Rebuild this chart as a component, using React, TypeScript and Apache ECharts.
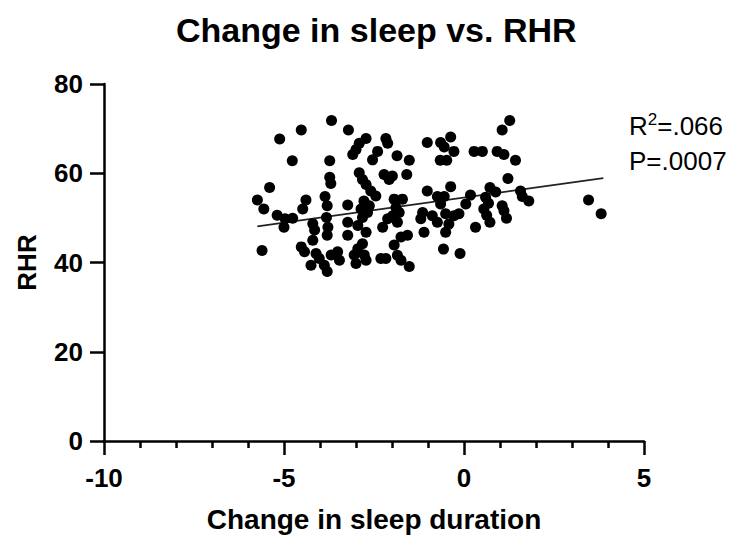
import React, { useEffect, useRef } from "react";
import * as echarts from "echarts";

const FONT = "'Liberation Sans', Arial, Helvetica, sans-serif";

const chartTitle = "Change in sleep vs. RHR";
const xAxisName = "Change in sleep duration";
const yAxisName = "RHR";
const statLines = ["{n|R}{s|2}{n|=.066}", "{n|P=.0007}"];

// change in sleep duration (x) and resting heart rate (y)
const sleepChange = [
  -3.68, -4.52, -5.12, -4.77, -3.73, -3.73, -3.7, -5.4, -5.74, -5.56, -4.39, -4.48, -3.86, -3.8, -5.19, -4.97,
  -4.76, -5.0, -4.2, -4.15, -3.82, -3.78, -3.8, -5.61, -4.2, -4.52, -4.43, -4.11, -4.02, -4.25, -3.88, -3.8, -3.69,
  -3.21, -2.72, -2.91, -3.0, -3.09, -2.17, -2.12, -2.4, -2.54, -1.86, -1.52, -2.91, -2.82, -2.72, -2.22, -2.08,
  -1.99, -1.59, -2.59, -2.45, -3.23, -2.78, -2.86, -2.68, -2.82, -2.63, -1.94, -1.71, -1.89, -1.8, -1.98, -2.12,
  -1.85, -3.23, -3.23, -2.95, -2.72, -2.26, -3.51, -3.46, -2.95, -3.05, -2.77, -3.0, -2.72, -2.82, -2.31, -2.17,
  -1.94, -1.75, -1.85, -1.75, -1.52,
  -1.02, -0.65, -0.55, -0.37, -0.28, -0.66, -0.48, 0.28, 0.51, -1.02, -0.37, -0.74, -0.55, -0.65, 0.18, 0.72,
  0.6, 0.05, -1.15, -1.2, -0.88, -0.74, -0.51, -0.28, -0.14, -0.42, -0.51, 0.55, 0.63, 0.32, 0.72, -1.11, -0.57,
  -0.11, -1.57,
  1.27, 1.06, 0.92, 1.11, 1.43, 1.22, 0.88, 1.57, 1.62, 1.8, 0.68, 1.06, 1.11, 1.18, 3.46, 3.81,
];
const rhr = [
  71.8, 69.7, 67.7, 62.8, 62.8, 59.1, 57.7, 56.8, 54.0, 52.0, 54.0, 52.0, 54.8, 52.7, 50.6, 49.8,
  49.9, 47.9, 48.7, 47.3, 50.1, 47.9, 46.1, 42.7, 45.0, 43.5, 42.4, 42.0, 40.9, 39.4, 39.4, 38.0, 41.7,
  69.7, 67.8, 66.7, 65.3, 64.2, 67.8, 66.7, 64.9, 63.0, 63.9, 62.9, 60.1, 58.6, 57.5, 59.7, 58.6,
  59.4, 59.7, 56.0, 54.9, 52.9, 53.8, 52.0, 51.2, 50.1, 52.7, 54.2, 54.2, 52.3, 51.2, 50.5, 49.8,
  49.0, 49.0, 46.1, 48.3, 46.8, 47.9, 42.4, 40.5, 43.1, 41.7, 41.7, 39.8, 40.5, 44.2, 40.9, 40.9,
  43.9, 45.7, 41.6, 40.5, 39.1,
  66.9, 66.9, 65.9, 68.1, 64.9, 62.9, 62.9, 64.9, 64.9, 56.0, 57.0, 54.8, 54.8, 53.1, 55.1, 56.8,
  54.6, 53.1, 51.2, 49.8, 50.5, 49.0, 50.9, 50.5, 50.9, 48.6, 46.8, 52.0, 50.6, 47.9, 49.0, 46.8, 43.0,
  42.0, 46.1,
  71.8, 69.7, 64.9, 64.2, 62.9, 58.8, 55.8, 56.0, 54.8, 53.8, 53.3, 52.7, 51.6, 49.9, 54.0, 50.9,
];

// fitted regression line end points
const fitX = [-5.74, 3.87];
const fitY = [48.1, 58.9];

const xMin = -10;
const xMax = 5;
const xStep = 5;
const yMin = 0;
const yMax = 80;
const yStep = 20;

export default function App() {
  const ref = useRef<HTMLDivElement>(null);

  useEffect(() => {
    if (!ref.current) return;
    const chart = echarts.init(ref.current, undefined, { renderer: "svg" });
    const points = sleepChange.map((x, i) => [x, rhr[i]]);
    const fit = fitX.map((x, i) => [x, fitY[i]]);
    const tickText = { fontFamily: FONT, fontWeight: "bold" as const, fontSize: 26, color: "#000" };

    chart.setOption({
      animation: false,
      backgroundColor: "#fff",
      title: {
        text: chartTitle,
        left: 176,
        top: 13,
        padding: 0,
        textStyle: { fontFamily: FONT, fontWeight: "bold", fontSize: 34, color: "#000" },
      },
      grid: { left: 104, top: 84, width: 540, height: 360, containLabel: false },
      xAxis: {
        type: "value",
        min: xMin,
        max: xMax,
        interval: xStep,
        name: xAxisName,
        nameLocation: "middle",
        nameGap: 64,
        nameTextStyle: { ...tickText, fontSize: 28 },
        axisLine: { onZero: false, lineStyle: { color: "#000", width: 2.5 } },
        axisTick: { show: true, length: 14, lineStyle: { color: "#000", width: 2.5 } },
        minorTick: { show: true, splitNumber: 5, length: 7, lineStyle: { color: "#000", width: 2.5 } },
        axisLabel: { ...tickText, margin: 24 },
        splitLine: { show: false },
      },
      yAxis: {
        type: "value",
        min: yMin,
        max: yMax,
        interval: yStep,
        name: yAxisName,
        nameLocation: "middle",
        nameGap: 64,
        nameTextStyle: tickText,
        axisLine: { onZero: false, lineStyle: { color: "#000", width: 2.5 } },
        axisTick: { show: true, length: 14, lineStyle: { color: "#000", width: 2.5 } },
        axisLabel: { ...tickText, margin: 21 },
        splitLine: { show: false },
      },
      series: [
        {
          type: "scatter",
          data: points,
          symbol: "circle",
          symbolSize: 11,
          itemStyle: { color: "#000", opacity: 1 },
          z: 3,
        },
        {
          type: "line",
          data: fit,
          showSymbol: false,
          symbol: "none",
          lineStyle: { color: "#222", width: 1.8 },
          z: 2,
        },
      ],
      graphic: statLines.map((t, i) => ({
        type: "text",
        left: 629,
        top: 111 + i * 37,
        style: {
          text: t,
          fontFamily: FONT,
          fontSize: 26,
          fill: "#000",
          rich: {
            n: { fontFamily: FONT, fontSize: 26, lineHeight: 30, color: "#000" },
            s: { fontFamily: FONT, fontSize: 17, lineHeight: 30, verticalAlign: "top", color: "#000" },
          },
        },
      })),
    });

    return () => chart.dispose();
  }, []);

  return (
    <div
      ref={ref}
      style={{ position: "absolute", left: 0, top: 0, width: 739, height: 538, background: "#fff" }}
    />
  );
}
